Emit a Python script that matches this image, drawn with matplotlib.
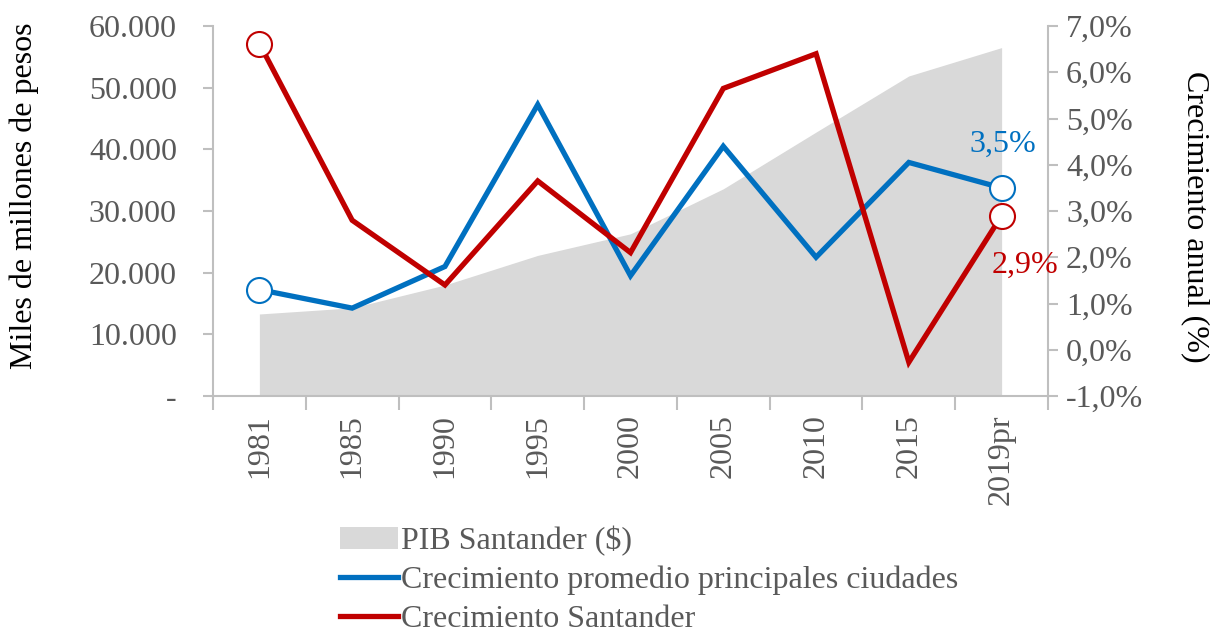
import numpy as np
import matplotlib.pyplot as plt
from matplotlib.patches import Patch
from matplotlib.lines import Line2D

plt.rcParams['font.family'] = ['Liberation Serif', 'DejaVu Serif']

# datos
anios = ['1981', '1985', '1990', '1995', '2000', '2005', '2010', '2015', '2019pr']
pib_santander = [13300, 14300, 18000, 22800, 26300, 33600, 42800, 51900, 56500]
crec_ciudades = [1.3, 0.9, 1.8, 5.3, 1.6, 4.4, 2.0, 4.05, 3.5]
crec_santander = [6.62, 2.8, 1.4, 3.65, 2.1, 5.65, 6.4, -0.27, 2.9]

gris = '#BFBFBF'
texto = '#595959'
azul = '#0070C0'
rojo = '#C00000'
fs = 23

fig = plt.figure(figsize=(12.14, 6.35), dpi=100)
ax = fig.add_axes([213/1214, 1 - 396/635, (1048-213)/1214, (396-26)/635])
ax2 = ax.twinx()

x = np.arange(len(anios))
ax.fill_between(x, pib_santander, 0, color='#D9D9D9', linewidth=0)

ax.set_xlim(-0.5, len(anios) - 0.5)
ax.set_ylim(0, 60000)
ax.set_yticks(np.arange(0, 60001, 10000))
ax.set_yticklabels(['-'] + [f'{v:,.0f}'.replace(',', '.') for v in range(10000, 60001, 10000)])
ax.set_xticks(x)
ax.set_xticklabels(anios, rotation=90, fontsize=fs, color=texto)
ax.set_xticks(np.arange(-0.5, len(anios)), minor=True)
ax.tick_params(axis='x', which='major', length=0, pad=13)
ax.tick_params(axis='x', which='minor', length=10, width=1.5, color=gris)
ax.tick_params(axis='y', length=7, width=1.5, color=gris, labelsize=fs, labelcolor=texto, pad=19)

ax2.plot(x, crec_ciudades, color=azul, linewidth=3.8, solid_joinstyle='miter',
         marker='o', markevery=[0, len(x) - 1], markersize=18, markerfacecolor='white',
         markeredgecolor=azul, markeredgewidth=1.5, zorder=3)
ax2.plot(x, crec_santander, color=rojo, linewidth=3.8, solid_joinstyle='miter',
         marker='o', markevery=[0, len(x) - 1], markersize=18, markerfacecolor='white',
         markeredgecolor=rojo, markeredgewidth=1.5, zorder=4)
ax2.set_ylim(-1, 7)
ax2.set_yticks(np.arange(-1, 7.01, 1))
ax2.set_yticklabels([f'{v:.1f}%'.replace('.', ',') for v in np.arange(-1, 7.01, 1)])
ax2.tick_params(axis='y', length=7, width=1.5, color=gris, labelsize=fs, labelcolor=texto, pad=6)

fig.text(24/1214, 1 - 196/635, 'Miles de millones de pesos', rotation=90,
         ha='center', va='center', fontsize=fs, color='black')
fig.text(1195/1214, 1 - 217/635, 'Crecimiento anual (%)', rotation=270,
         ha='center', va='center', fontsize=fs, color='black')

ax2.annotate('3,5%', (x[-1], crec_ciudades[-1]), xytext=(1, 31), textcoords='offset points',
             ha='center', va='center', fontsize=fs, color=azul)
ax2.annotate('2,9%', (x[-1], crec_santander[-1]), xytext=(17, -36), textcoords='offset points',
             ha='center', va='center', fontsize=fs, color=rojo)

for a in (ax, ax2):
    a.spines['top'].set_visible(False)
    for s in ('left', 'right', 'bottom'):
        a.spines[s].set_color(gris)
        a.spines[s].set_linewidth(1.5)
ax.spines['right'].set_visible(False)
ax2.spines['left'].set_visible(False)
ax2.spines['bottom'].set_visible(False)

handles = [Patch(facecolor='#D9D9D9', edgecolor='none'),
           Line2D([0], [0], color=azul, linewidth=3.8),
           Line2D([0], [0], color=rojo, linewidth=3.8)]
labels = ['PIB Santander ($)', 'Crecimiento promedio principales ciudades', 'Crecimiento Santander']
leg = fig.legend(handles, labels, loc='upper left', bbox_to_anchor=(340/1214, 1 - 526/635),
                 frameon=False, fontsize=fs, handlelength=1.8, handletextpad=0.1,
                 labelspacing=0.3, borderpad=0, borderaxespad=0)
for t in leg.get_texts():
    t.set_color(texto)

fig.savefig('out.png', dpi=100)
